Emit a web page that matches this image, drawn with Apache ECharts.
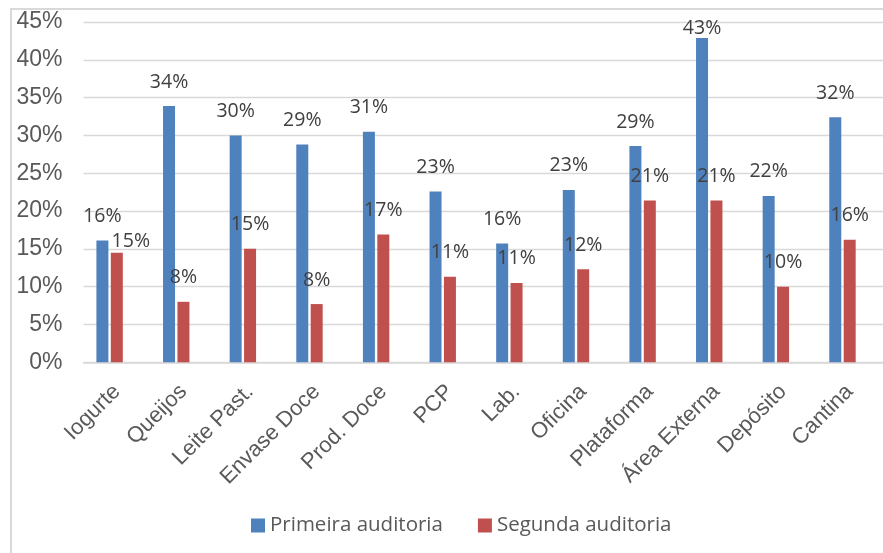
<!DOCTYPE html>
<html>
<head>
<meta charset="utf-8">
<script src="https://cdn.jsdelivr.net/npm/echarts@6/dist/echarts.min.js"></script>
<style>
  html, body { margin: 0; padding: 0; background: #fff; overflow: hidden; }
  #frame { position: absolute; left: 10px; top: 8px; width: 1000px; height: 1000px; border: 2px solid #d9d9d9; box-sizing: border-box; }
  #chart { position: absolute; left: 0; top: 0; width: 883px; height: 553px; }
</style>
</head>
<body>
<div id="frame"></div>
<div id="chart"></div>
<script>
const categories = ['Iogurte', 'Queijos', 'Leite Past.', 'Envase Doce', 'Prod. Doce', 'PCP', 'Lab.', 'Oficina', 'Plataforma', 'Área Externa', 'Depósito', 'Cantina'];
const primeira = [16.1, 33.9, 30.0, 28.8, 30.5, 22.6, 15.7, 22.8, 28.6, 42.9, 22.0, 32.4];
const segunda  = [14.5, 8.0, 15.0, 7.7, 16.9, 11.3, 10.5, 12.3, 21.4, 21.4, 10.0, 16.2];
const emptySeries = [null, null, null, null, null, null, null, null, null, null, null, null];
const yTicks = [0, 5, 10, 15, 20, 25, 30, 35, 40, 45];

// label placement tweaks (as in the original, where overlapping labels were moved)
const labelOffsetsPrimeira = { 9: [0, 15] };
const labelOffsetsSegunda = { 0: [14, 13] };

function buildData(values, offsets) {
  return values.map((v, i) => offsets[i] ? { value: v, label: { offset: offsets[i] } } : v);
}

const labelStyle = {
  show: true,
  position: 'top',
  distance: 14,
  fontFamily: 'Open Sans',
  fontSize: 19.5,
  color: '#404040',
  formatter: p => Math.round(p.value) + '%'
};

const chart = echarts.init(document.getElementById('chart'), null, { renderer: 'canvas' });
chart.setOption({
  animation: false,
  backgroundColor: 'transparent',
  grid: { left: 83.5, top: 22, width: 815.6, bottom: 190.7, containLabel: false },
  legend: {
    data: ['Primeira auditoria', 'Segunda auditoria'],
    left: 246,
    top: 510,
    icon: 'rect',
    itemWidth: 14,
    itemHeight: 14,
    itemGap: 35,
    textStyle: { fontFamily: 'Open Sans', fontSize: 20.5, color: '#595959' }
  },
  xAxis: {
    type: 'category',
    data: categories,
    axisTick: { show: false },
    axisLine: { show: true, lineStyle: { color: '#d9d9d9', width: 1.5 } },
    axisLabel: {
      rotate: 45,
      interval: 0,
      margin: 26,
      fontFamily: 'Liberation Sans',
      fontSize: 22,
      color: '#595959'
    }
  },
  yAxis: {
    type: 'value',
    min: yTicks[0],
    max: yTicks[yTicks.length - 1],
    interval: yTicks[1] - yTicks[0],
    axisLine: { show: false },
    axisTick: { show: false },
    splitLine: { show: true, lineStyle: { color: '#d9d9d9', width: 1.3 } },
    axisLabel: {
      margin: 21,
      formatter: '{value}%',
      fontFamily: 'Liberation Sans',
      fontSize: 23,
      color: '#595959'
    }
  },
  series: [
    {
      name: 'Primeira auditoria', type: 'bar', barWidth: 12, barGap: '20%',
      itemStyle: { color: '#4f81bd' },
      label: labelStyle,
      data: buildData(primeira, labelOffsetsPrimeira)
    },
    {
      name: 'Segunda auditoria', type: 'bar', barWidth: 12, barGap: '20%',
      itemStyle: { color: '#c0504d' },
      label: labelStyle,
      data: buildData(segunda, labelOffsetsSegunda)
    },
    {
      name: '', type: 'bar', barWidth: 12, barGap: '20%',
      itemStyle: { color: '#9bbb59' },
      data: emptySeries
    }
  ]
});
</script>
</body>
</html>
